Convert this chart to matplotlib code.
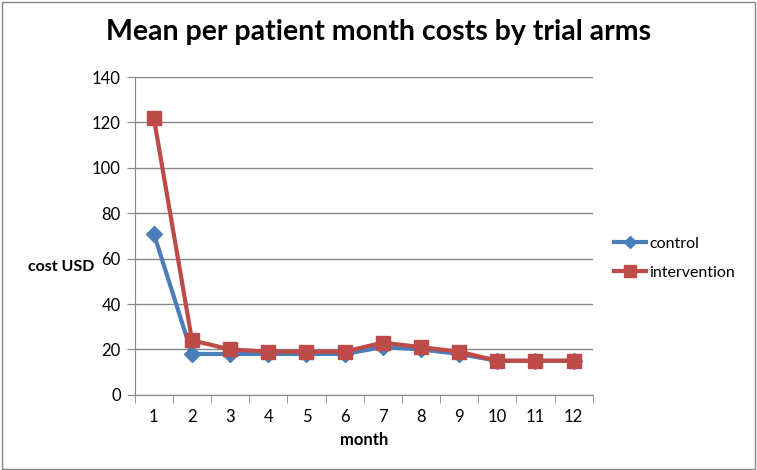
import matplotlib.pyplot as plt
import numpy as np

plt.rcParams['font.family'] = ['Lato', 'DejaVu Sans']

# 数据
months = ['1', '2', '3', '4', '5', '6', '7', '8', '9', '10', '11', '12']
control = [71, 18, 18, 18, 18, 18, 21, 20, 18, 15, 15, 15]
intervention = [122, 24, 20, 19, 19, 19, 23, 21, 19, 15, 15, 15]

fig = plt.figure(figsize=(7.57, 4.70), dpi=100)
ax = fig.add_axes([0.178, 0.160, 0.605, 0.676])

x = np.arange(1, len(months) + 1)
ax.plot(x, control, color='#4a7ebb', lw=3, marker='D', ms=8, label='control')
ax.plot(x, intervention, color='#be4b48', lw=3, marker='s', ms=10, label='intervention')

ax.set_xlim(0.5, 12.5)
ax.set_ylim(0, 140)
ax.set_yticks(range(0, 141, 20))
ax.set_xticks(x)
ax.set_xticklabels(months)
ax.set_xticks(np.arange(0.5, 12.6, 1), minor=True)
ax.tick_params(axis='x', which='major', length=0, pad=10, labelsize=12)
ax.tick_params(axis='x', which='minor', length=6, color='#868686', direction='out')
ax.tick_params(axis='y', length=6, color='#868686', direction='out', labelsize=12, pad=4)
ax.grid(axis='y', color='#868686', lw=1)
ax.set_axisbelow(True)
for s in ['top', 'right']:
    ax.spines[s].set_visible(False)
for s in ['left', 'bottom']:
    ax.spines[s].set_color('#868686')

ax.set_xlabel('month', fontweight='bold', fontsize=12, labelpad=5)
fig.text(0.037, 0.432, 'cost USD', fontweight='bold', fontsize=11.5, va='center')
fig.suptitle('Mean per patient month costs by trial arms', fontweight='bold', fontsize=20.5, y=0.96)

ax.legend(loc='center left', bbox_to_anchor=(1.015, 0.43), frameon=False, fontsize=11.5,
          handlelength=2.0, handletextpad=0.2, labelspacing=0.9, markerscale=0.8)

fig.patches.append(plt.Rectangle((0.002, 0.003), 0.995, 0.993, transform=fig.transFigure,
                                 fill=False, edgecolor='#868686', lw=1))

plt.savefig('out.png')
